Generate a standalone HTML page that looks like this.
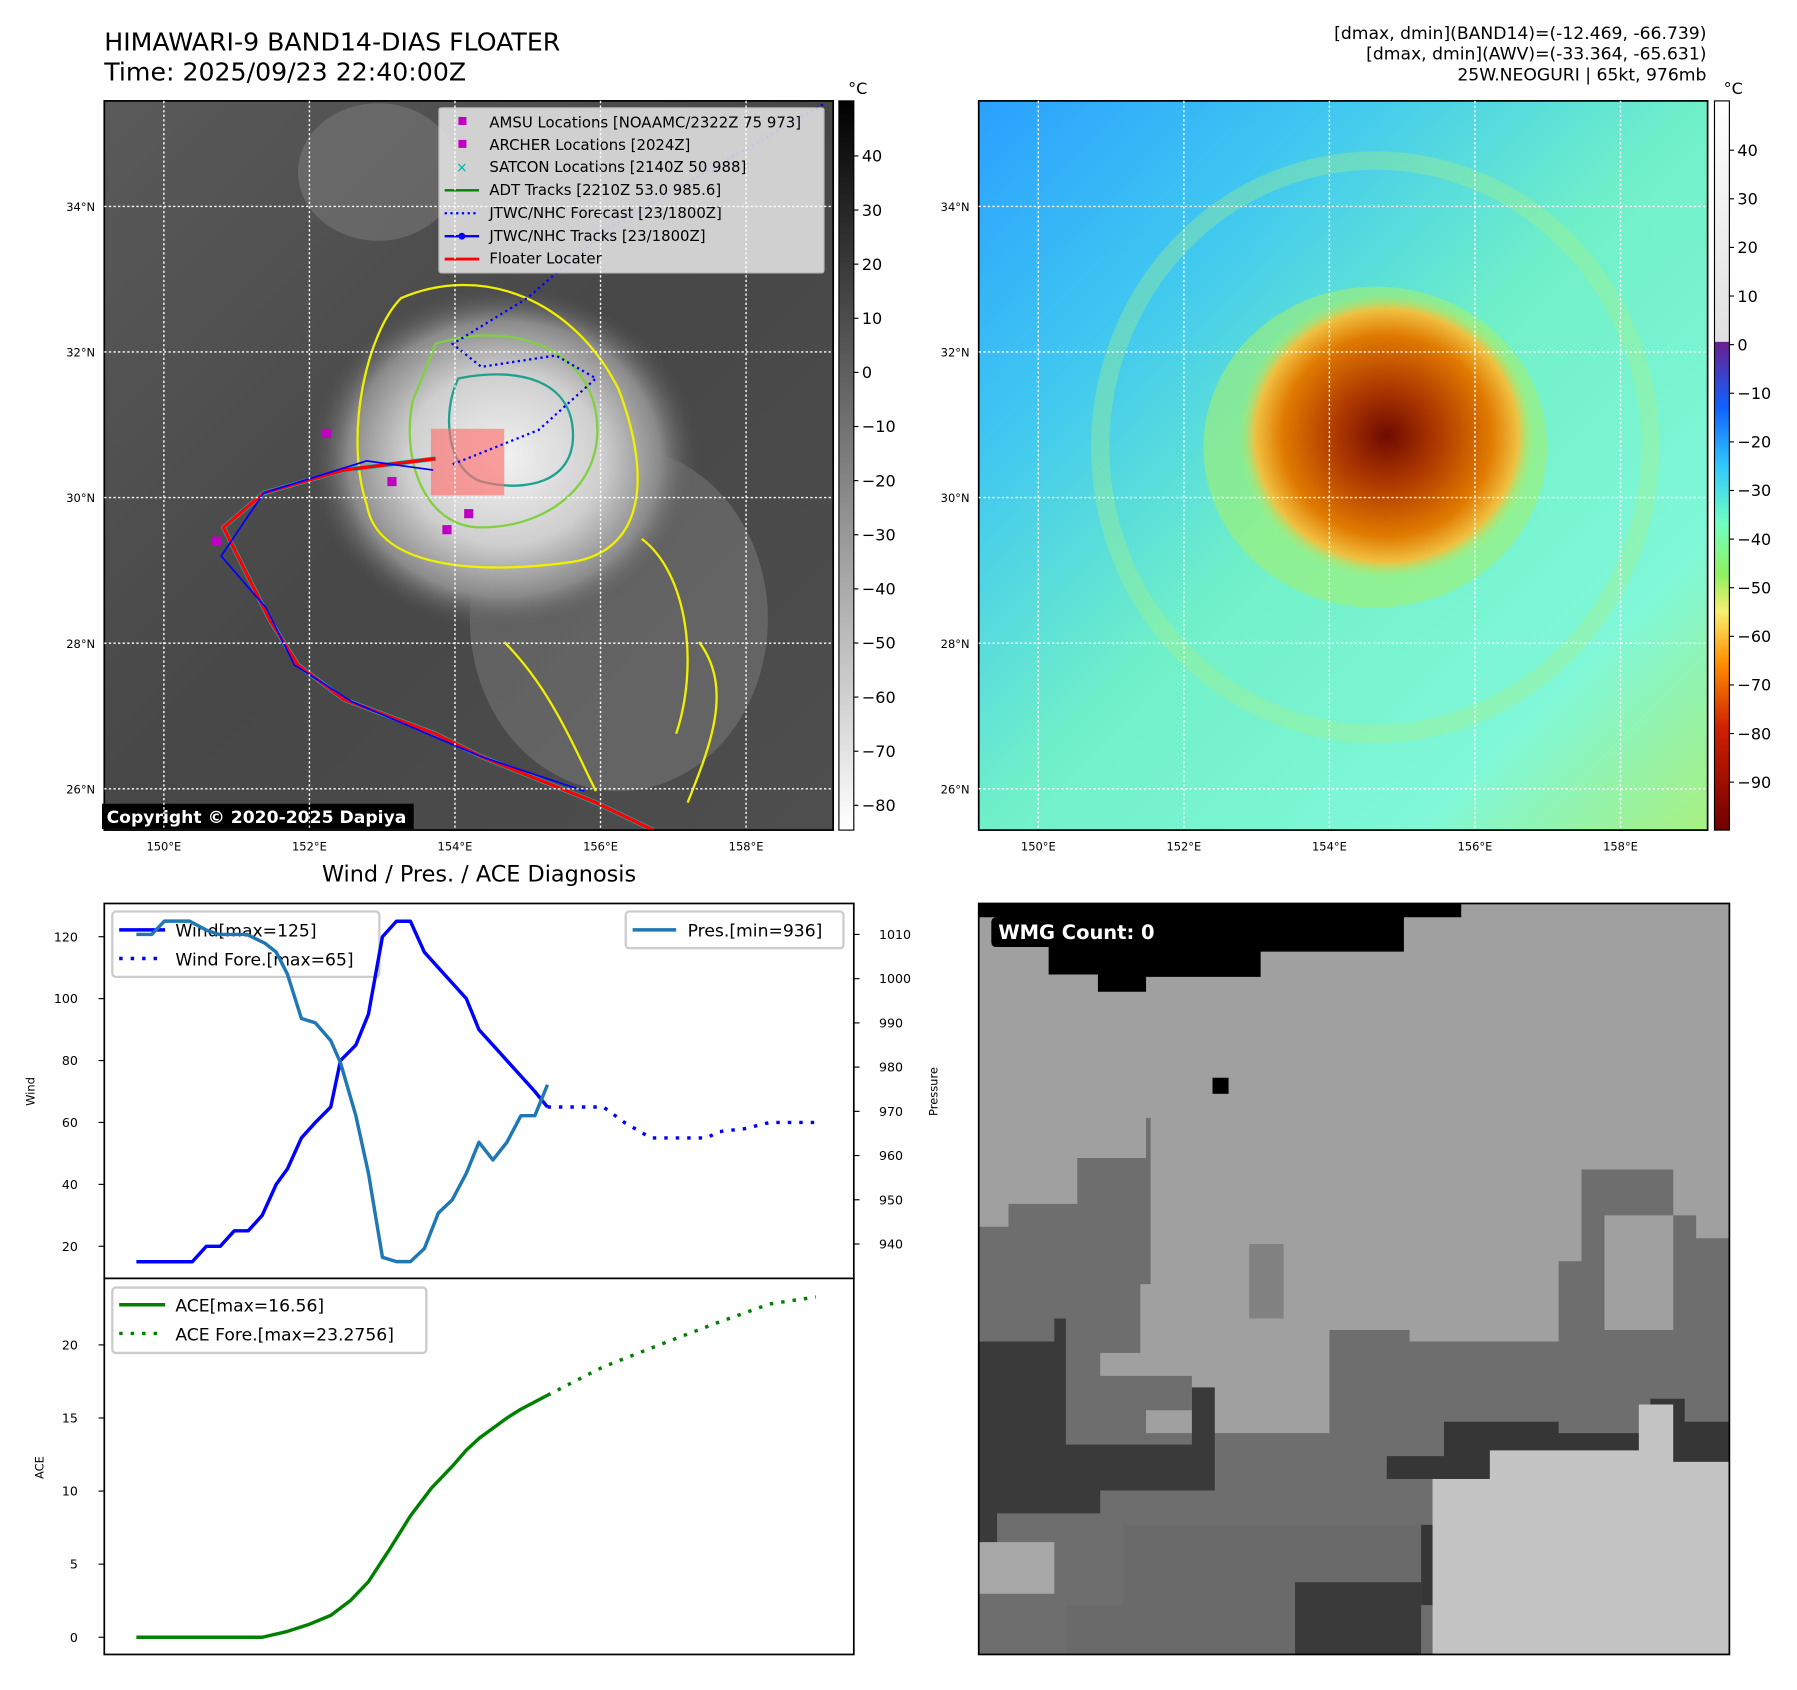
<!DOCTYPE html>
<html><head><meta charset="utf-8">
<style>
html,body{margin:0;padding:0;background:#fff;}
svg{display:block;font-family:"DejaVu Sans","Liberation Sans",sans-serif;}
</style></head>
<body>
<svg id="fig" width="1797" height="1690" viewBox="0 0 1568 1474" preserveAspectRatio="none" xmlns="http://www.w3.org/2000/svg">
<defs>
  <radialGradient id="cloud" cx="0.5" cy="0.5" r="0.5">
    <stop offset="0" stop-color="#f2f2f2"/><stop offset="0.5" stop-color="#cfcfcf"/><stop offset="0.8" stop-color="#8a8a8a"/><stop offset="1" stop-color="#555" stop-opacity="0"/>
  </radialGradient>
  <linearGradient id="irbg" x1="0" y1="0" x2="1" y2="1">
    <stop offset="0" stop-color="#5a5a5a"/><stop offset="0.5" stop-color="#474747"/><stop offset="1" stop-color="#4e4e4e"/>
  </linearGradient>
  <radialGradient id="hot" cx="0.5" cy="0.5" r="0.5">
    <stop offset="0" stop-color="#6e0a00"/><stop offset="0.35" stop-color="#b03a00"/><stop offset="0.7" stop-color="#e07a00"/><stop offset="0.88" stop-color="#f0c040"/><stop offset="1" stop-color="#9ef07a" stop-opacity="0"/>
  </radialGradient>
  <linearGradient id="awvbg" x1="0" y1="0" x2="1" y2="1">
    <stop offset="0" stop-color="#2aa0ff"/><stop offset="0.25" stop-color="#40c8f0"/><stop offset="0.5" stop-color="#70f0c8"/><stop offset="0.8" stop-color="#80f8d8"/><stop offset="1" stop-color="#a8f080"/>
  </linearGradient>
  <linearGradient id="cbgray" x1="0" y1="0" x2="0" y2="1">
    <stop offset="0" stop-color="#000"/><stop offset="1" stop-color="#fff"/>
  </linearGradient>
  <linearGradient id="cbawv" x1="0" y1="0" x2="0" y2="1">
    <stop offset="0" stop-color="#ffffff"/><stop offset="0.33" stop-color="#e0e0e0"/><stop offset="0.331" stop-color="#6a2090"/>
    <stop offset="0.42" stop-color="#1060ff"/><stop offset="0.5" stop-color="#30c8ff"/><stop offset="0.58" stop-color="#70ffc0"/>
    <stop offset="0.65" stop-color="#90f060"/><stop offset="0.7" stop-color="#f8f070"/><stop offset="0.77" stop-color="#ff9000"/>
    <stop offset="0.86" stop-color="#d02000"/><stop offset="1" stop-color="#700000"/>
  </linearGradient>
  <clipPath id="clipL"><rect x="91" y="88" width="636" height="636"/></clipPath>
  <clipPath id="clipR"><rect x="854" y="88" width="636" height="636"/></clipPath>
  <clipPath id="clipW"><rect x="91" y="788" width="654" height="327"/></clipPath>
</defs>

<text x="91" y="44" font-size="22">HIMAWARI-9 BAND14-DIAS FLOATER</text>
<text x="91" y="70" font-size="22">Time: 2025/09/23 22:40:00Z</text>
<g font-size="15" text-anchor="end">
<text x="1489" y="34">[dmax, dmin](BAND14)=(-12.469, -66.739)</text>
<text x="1489" y="52">[dmax, dmin](AWV)=(-33.364, -65.631)</text>
<text x="1489" y="70">25W.NEOGURI | 65kt, 976mb</text>
</g>

<g clip-path="url(#clipL)">
  <rect x="91" y="88" width="636" height="636" fill="url(#irbg)"/>
  <ellipse cx="330" cy="150" rx="70" ry="60" fill="#8a8a8a" opacity="0.4"/>
  <ellipse cx="540" cy="540" rx="130" ry="150" fill="#8a8a8a" opacity="0.4"/>
  <ellipse cx="440" cy="400" rx="170" ry="150" fill="url(#cloud)"/>
  <path d="M350 260 C420 230 500 260 540 340 C570 420 560 480 500 490 C430 500 330 500 320 440 C300 380 320 290 350 260Z" fill="none" stroke="#f0f000" stroke-width="2"/>
  <path d="M380 300 C440 280 510 300 520 360 C530 420 480 460 420 460 C370 460 350 400 360 350Z" fill="none" stroke="#80d040" stroke-width="2"/>
  <path d="M400 330 C450 320 500 330 500 380 C500 420 460 430 420 420 C390 410 385 360 400 330Z" fill="none" stroke="#20a090" stroke-width="2"/>
  <path d="M560 470 C600 500 610 580 590 640 M440 560 C480 600 500 650 520 690 M610 560 C640 600 620 650 600 700" fill="none" stroke="#f0f000" stroke-width="2"/>
  <rect x="376" y="374" width="64" height="58" fill="#ff7070" opacity="0.65"/>
  <polyline points="570,724 520,700 470,680 420,660 380,640 300,610 260,580 235,540 215,500 195,460 230,430 300,410 380,400" fill="none" stroke="#00c0c0" stroke-width="4"/>
  <polyline points="570,724 520,700 470,680 420,660 380,640 300,610 260,580 235,540 215,500 195,460 230,430 300,410 380,400" fill="none" stroke="#ff0000" stroke-width="3"/>
  <polyline points="510,690 420,660 307,612 257,580 232,530 193,485 230,430 320,402 378,410" fill="none" stroke="#0000ff" stroke-width="1.5"/>
  <polyline points="395,405 470,375 520,330 485,310 420,320 395,300 460,260 530,200 720,90" fill="none" stroke="#0000ff" stroke-width="2" stroke-dasharray="2,3"/>
  <g fill="#c000c0"><rect x="281" y="374" width="8" height="8"/><rect x="386" y="458" width="8" height="8"/><rect x="405" y="444" width="8" height="8"/><rect x="185" y="468" width="8" height="8"/><rect x="338" y="416" width="8" height="8"/></g>
</g>
<rect x="91" y="88" width="636" height="636" fill="none" stroke="#000" stroke-width="1.5"/>
<rect x="89" y="701" width="272" height="22" fill="#000"/>
<text x="93" y="718" font-size="15" font-weight="bold" fill="#fff">Copyright © 2020-2025 Dapiya</text>

<g font-size="13">
  <rect x="383" y="94" width="336" height="144" fill="#e8e8e8" opacity="0.85" stroke="#ccc" rx="2"/>
  <rect x="400" y="102" width="7" height="7" fill="#c000c0"/><text x="427" y="111">AMSU Locations [NOAAMC/2322Z 75 973]</text>
  <rect x="400" y="122" width="7" height="7" fill="#c000c0"/><text x="427" y="131">ARCHER Locations [2024Z]</text>
  <text x="398" y="150" fill="#00b0b0" font-size="12">×</text><text x="427" y="150">SATCON Locations [2140Z 50 988]</text>
  <line x1="388" y1="166" x2="418" y2="166" stroke="#008000" stroke-width="2"/><text x="427" y="170">ADT Tracks [2210Z 53.0 985.6]</text>
  <line x1="388" y1="186" x2="418" y2="186" stroke="#0000ff" stroke-width="2" stroke-dasharray="2,3"/><text x="427" y="190">JTWC/NHC Forecast [23/1800Z]</text>
  <line x1="388" y1="206" x2="418" y2="206" stroke="#0000ff" stroke-width="2"/><circle cx="403" cy="206" r="3" fill="#0000ff"/><text x="427" y="210">JTWC/NHC Tracks [23/1800Z]</text>
  <line x1="388" y1="226" x2="418" y2="226" stroke="#ff0000" stroke-width="2.5"/><text x="427" y="230">Floater Locater</text>
</g>

<g clip-path="url(#clipR)">
  <rect x="854" y="88" width="636" height="636" fill="url(#awvbg)"/>
  <ellipse cx="1200" cy="390" rx="150" ry="140" fill="#a0f070" opacity="0.6"/>
  <ellipse cx="1210" cy="380" rx="130" ry="125" fill="url(#hot)"/>
  <ellipse cx="1200" cy="390" rx="240" ry="250" fill="none" stroke="#a8f080" stroke-width="16" opacity="0.35"/>
</g>
<rect x="854" y="88" width="636" height="636" fill="none" stroke="#000" stroke-width="1.5"/>

<rect x="732" y="88" width="13" height="636" fill="url(#cbgray)" stroke="#000" stroke-width="1"/>
<text x="740" y="82" font-size="14">°C</text>
<rect x="1496" y="88" width="13" height="636" fill="url(#cbawv)" stroke="#000" stroke-width="1"/>
<text x="1504" y="82" font-size="14">°C</text>
<g id="cbticks" font-size="14"></g>
<g id="mapticks" font-size="10"></g>

<text x="418" y="769" font-size="19.5" text-anchor="middle">Wind / Pres. / ACE Diagnosis</text>
<rect x="91" y="788" width="654" height="327" fill="#fff" stroke="#000" stroke-width="1.5"/>
<rect x="91" y="1115" width="654" height="328" fill="#fff" stroke="#000" stroke-width="1.5"/>
<text transform="translate(30,952) rotate(-90)" font-size="10" text-anchor="middle">Wind</text>
<text transform="translate(818,952) rotate(-90)" font-size="10" text-anchor="middle">Pressure</text>
<text transform="translate(38,1280) rotate(-90)" font-size="10" text-anchor="middle">ACE</text>

<g font-size="15">
  <rect x="98" y="795" width="233" height="57" fill="#fff" fill-opacity="0.8" stroke="#ccc" stroke-width="2" rx="3"/>
  <line x1="104" y1="811" x2="144" y2="811" stroke="#0000ff" stroke-width="3"/><text x="153" y="817">Wind[max=125]</text>
  <line x1="104" y1="836" x2="144" y2="836" stroke="#0000ff" stroke-width="3" stroke-dasharray="3,7"/><text x="153" y="842">Wind Fore.[max=65]</text>
</g>
<g id="plots"></g>
<g font-size="15">
  <rect x="546" y="795" width="190" height="32" fill="#fff" fill-opacity="0.8" stroke="#ccc" stroke-width="2" rx="3"/>
  <line x1="552" y1="811" x2="590" y2="811" stroke="#1f77b4" stroke-width="3"/><text x="600" y="817">Pres.[min=936]</text>
</g>
<g font-size="15">
  <rect x="98" y="1123" width="274" height="57" fill="#fff" fill-opacity="0.8" stroke="#ccc" stroke-width="2" rx="3"/>
  <line x1="104" y1="1138" x2="144" y2="1138" stroke="#008000" stroke-width="3"/><text x="153" y="1144">ACE[max=16.56]</text>
  <line x1="104" y1="1163" x2="144" y2="1163" stroke="#008000" stroke-width="3" stroke-dasharray="3,7"/><text x="153" y="1169">ACE Fore.[max=23.2756]</text>
</g>

<g>
  <rect x="854" y="788" width="655" height="655" fill="#a0a0a0"/>
  <path d="M854 788 H1275 V800 H1225 V830 H1100 V852 H1000 V865 H958 V850 H915 V825 H870 V800 H854Z" fill="#000"/>
  <rect x="1058" y="940" width="14" height="14" fill="#000"/>
  <path d="M854 1070 H880 V1050 H940 V1010 H1000 V975 H1004 V1120 H995 V1180 H960 V1200 H1040 V1230 H1000 V1250 H1160 V1160 H1230 V1170 H1360 V1100 H1380 V1020 H1460 V1060 H1480 V1080 H1509 V1443 H854Z" fill="#6e6e6e"/>
  <path d="M1400 1060 H1460 V1160 H1400Z" fill="#a0a0a0"/>
  <path d="M1090 1085 H1120 V1150 H1090Z" fill="#828282"/>
  <path d="M854 1170 H920 V1150 H930 V1260 H1040 V1210 H1060 V1300 H960 V1320 H870 V1350 H854Z" fill="#3a3a3a"/>
  <path d="M1210 1270 H1260 V1240 H1360 V1250 H1440 V1220 H1470 V1240 H1509 V1275 H1420 V1290 H1509 V1443 H1250 V1400 H1240 V1330 H1260 V1290 H1210Z" fill="#363636"/>
  <path d="M1250 1290 H1300 V1265 H1430 V1225 H1460 V1275 H1509 V1443 H1250Z" fill="#c4c4c4"/>
  <path d="M854 1345 H920 V1390 H854Z" fill="#a8a8a8"/>
  <path d="M980 1330 H1240 V1443 H930 V1400 H980Z" fill="#6a6a6a"/>
  <path d="M1130 1380 H1240 V1443 H1130Z" fill="#3a3a3a"/>
  <rect x="865" y="800" width="156" height="26" rx="4" fill="#000"/>
  <text x="871" y="819" font-size="17" font-weight="bold" fill="#fff">WMG Count: 0</text>
</g>
<rect x="854" y="788" width="655" height="655" fill="none" stroke="#000" stroke-width="1.5"/>

<script>
const windT = [0,4,5,6,7,8,9,10,10.8,11.8,12.8,13.9,14.6,15.7,16.6,17.6,18.6,19.6,20.6,21.6,22.6,23.6,24.5,25.5,26.5,27.5,28.5,29.4];
const windV = [15,15,20,20,25,25,30,40,45,55,60,65,80,85,95,120,125,125,115,110,105,100,90,85,80,75,70,65];
const windForeT = [29.4,30.4,31.4,33.4,34.9,36.8,40.8,41.6,43.5,45.3,48.6];
const windForeV = [65,65,65,65,60,55,55,57,58,60,60];
const presT = [0,1.1,2,3.8,5,5.9,7.9,9.2,10,10.8,11.8,12.8,13.9,14.6,15.7,16.6,17.6,18.6,19.6,20.6,21.6,22.6,23.6,24.5,25.5,26.5,27.5,28.5,29.4];
const presV = [1010,1010,1013,1013,1011,1010,1010,1008,1006,1001,991,990,986,981,969,956,937,936,936,939,947,950,956,963,959,963,969,969,976];
const aceT = [0,9,10.8,12.4,13.9,15.3,16.6,18.1,19.6,21.1,22.6,23.6,24.5,25.5,26.5,27.5,28.5,29.4];
const aceV = [0,0,0.4,0.9,1.5,2.5,3.8,6,8.3,10.2,11.7,12.8,13.6,14.3,15,15.6,16.1,16.56];
const aceForeT = [29.4,33.4,37.4,41.5,45.3,48.6];
const aceForeV = [16.56,18.5,20,21.5,22.8,23.28];
const windTicks = [20,40,60,80,100,120];
const presTicks = [940,950,960,970,980,990,1000,1010];
const aceTicks = [0,5,10,15,20];
const irCbTicks = [40,30,20,10,0,-10,-20,-30,-40,-50,-60,-70,-80];
const awvCbTicks = [40,30,20,10,0,-10,-20,-30,-40,-50,-60,-70,-80,-90];
const latTicks = [34,32,30,28,26];
const lonTicks = [150,152,154,156,158];

const NS='http://www.w3.org/2000/svg';
function mk(tag, attrs, parent){const e=document.createElementNS(NS,tag);for(const k in attrs)e.setAttribute(k,attrs[k]);parent.appendChild(e);return e;}
const xS = t => 119 + t*12.2;
const wY = v => 1087 - (v-20)*2.7;
const pY = p => 1085 - (p-940)*3.857;
const aY = v => 1428 - v*12.75;
const plots=document.getElementById('plots');
function line(ts,vs,yf,color,dash,name){
  const pts=ts.map((t,i)=>xS(t).toFixed(1)+','+yf(vs[i]).toFixed(1)).join(' ');
  const p=mk('polyline',{points:pts,fill:'none',stroke:color,'stroke-width':3,'stroke-linejoin':'round'},plots);
  if(dash)p.setAttribute('stroke-dasharray',dash);
  p.setAttribute('clip-path','url(#clipW)');
  if(name.indexOf('ace')===0)p.removeAttribute('clip-path');
  
  
}
line(windT,windV,wY,'#0000ff',null,'wind-line');
line(windForeT,windForeV,wY,'#0000ff','3,7','wind-forecast-line');
line(presT,presV,pY,'#1f77b4',null,'pressure-line');
line(aceT,aceV,aY,'#008000',null,'ace-line');
line(aceForeT,aceForeV,aY,'#008000','3,7','ace-forecast-line');
windTicks.forEach(v=>{const y=wY(v);mk('line',{x1:86,x2:91,y1:y,y2:y,stroke:'#000'},plots);const t=mk('text',{x:68,y:y+4,'font-size':11,'text-anchor':'end'},plots);t.textContent=v;
  
  });
presTicks.forEach(v=>{const y=pY(v);mk('line',{x1:745,x2:750,y1:y,y2:y,stroke:'#000'},plots);const t=mk('text',{x:767,y:y+4,'font-size':11},plots);t.textContent=v;
  
  });
aceTicks.forEach(v=>{const y=aY(v);mk('line',{x1:86,x2:91,y1:y,y2:y,stroke:'#000'},plots);const t=mk('text',{x:68,y:y+4,'font-size':11,'text-anchor':'end'},plots);t.textContent=v;
  
  });

const cb=document.getElementById('cbticks');
irCbTicks.forEach((v,i)=>{const y=136+i*47.2;mk('line',{x1:745,x2:749,y1:y,y2:y,stroke:'#000'},cb);const t=mk('text',{x:752,y:y+5},cb);t.textContent=v<0?'\u2212'+(-v):v;
  
  });
awvCbTicks.forEach((v,i)=>{const y=131+i*42.4;mk('line',{x1:1509,x2:1513,y1:y,y2:y,stroke:'#000'},cb);const t=mk('text',{x:1516,y:y+5},cb);t.textContent=v<0?'\u2212'+(-v):v;
  
  });

const mt=document.getElementById('mapticks');
[91,854].forEach(x0=>{
  latTicks.forEach(lat=>{const y=180+(34-lat)/2*127;
    mk('line',{x1:x0,x2:x0+636,y1:y,y2:y,stroke:'#fff','stroke-width':1.2,'stroke-dasharray':'2,2'},mt);
    const t=mk('text',{x:x0-8,y:y+4,'text-anchor':'end'},mt);t.textContent=lat+'°N';
    
    });
  lonTicks.forEach(lon=>{const x=x0+52+(lon-150)/2*127;
    mk('line',{x1:x,x2:x,y1:88,y2:724,stroke:'#fff','stroke-width':1.2,'stroke-dasharray':'2,2'},mt);
    const t=mk('text',{x:x,y:742,'text-anchor':'middle'},mt);t.textContent=lon+'°E';
    
    });
});
</script>
</svg>
</body></html>
